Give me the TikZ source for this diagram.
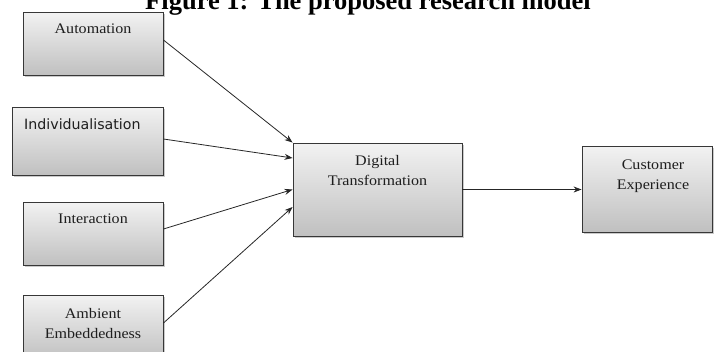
\documentclass[tikz,border=0pt]{standalone}
\usepackage{fontspec}
\setmainfont{Liberation Serif}
\newfontfamily\boxserif[FakeStretch=1.1]{Liberation Serif}
\newfontfamily\boxsans{DejaVu Sans}
\usetikzlibrary{arrows.meta,shadows}

\definecolor{boxtop}{RGB}{242,242,242}
\definecolor{boxbottom}{RGB}{192,192,192}
\definecolor{boxline}{RGB}{55,55,55}
\definecolor{inktext}{RGB}{30,30,30}

\tikzset{
  modelbox/.style={
    rectangle, draw=boxline, line width=0.9pt,
    top color=boxtop, bottom color=boxbottom,
    inner sep=0pt,
    drop shadow={shadow xshift=1.6pt, shadow yshift=-1.6pt, opacity=0.35, fill=black!60}
  },
  % multi-line labels: the base anchor sits on the last line
  boxlabel/.style={
    anchor=base, inner sep=0pt, align=center, text=inktext,
    font=\boxserif\fontsize{14.6}{19.5}\selectfont
  },
  flow/.style={
    draw=black!85, line width=0.8pt,
    -{Stealth[length=8pt,width=6pt]}
  }
}

\begin{document}
\begin{tikzpicture}[x=1pt,y=-1pt]
  \useasboundingbox (0,0) rectangle (714,351);

  % heading, partly cut at the top edge
  \node[anchor=base, inner sep=0pt, font=\bfseries\fontsize{26.5}{30}\selectfont] (title)
    at (368,9) {Figure 1: The proposed research model};

  % input constructs
  \node[modelbox, minimum width=140pt, minimum height=63pt] (auto)  at (93,43.5)  {};
  \node[modelbox, minimum width=151pt, minimum height=68pt] (indiv) at (87.5,141) {};
  \node[modelbox, minimum width=140pt, minimum height=63pt] (inter) at (93,233.5) {};
  \node[modelbox, minimum width=140pt, minimum height=65pt] (amb)   at (93,327.5) {};

  % mediator and outcome
  \node[modelbox, minimum width=169pt, minimum height=93pt] (dt) at (377.5,189.5) {};
  \node[modelbox, minimum width=130pt, minimum height=86pt] (ce) at (647,189)     {};

  % box texts
  \node[boxlabel] (autoT)  at (93,33)   {Automation};
  \node[anchor=base west, inner sep=0pt, text=inktext,
        font=\boxsans\fontsize{14.2}{17}\selectfont] (indivT) at (24,129) {Individualisation};
  \node[boxlabel] (interT) at (93,223)  {Interaction};
  \node[boxlabel] (ambT)   at (93,338)  {Ambient\\Embeddedness};
  \node[boxlabel] (dtT)    at (377.5,185) {Digital\\Transformation};
  \node[boxlabel] (ceT)    at (653,189) {Customer\\Experience};

  % connectors
  \draw[flow] ([yshift=3.5pt]auto.east)  -- (dt.north west);
  \draw[flow] ([yshift=2pt]indiv.east)   -- ([yshift=31.5pt]dt.west);
  \draw[flow] ([yshift=4.5pt]inter.east) -- (dt.west);
  \draw[flow] ([yshift=4.5pt]amb.east)   -- ([yshift=-17.5pt]dt.west);
  \draw[flow] (dt.east) -- (dt.east -| ce.west);
\end{tikzpicture}
\end{document}
